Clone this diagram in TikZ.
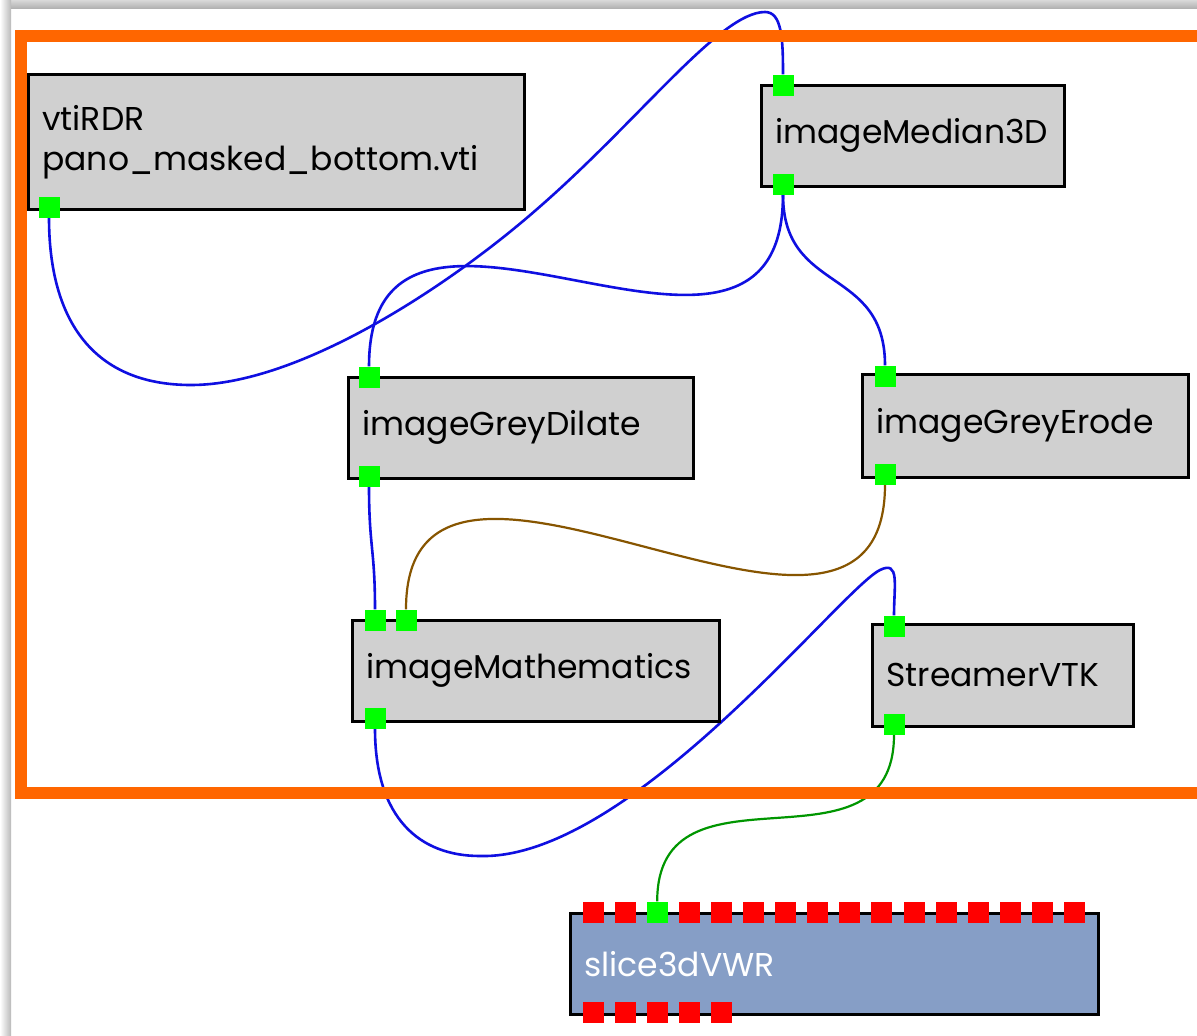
\documentclass[tikz,border=0pt]{standalone}
\usepackage{fontspec}
\setmainfont{Poppins}
\usetikzlibrary{backgrounds}

\definecolor{modgrey}{RGB}{208,208,208}
\definecolor{vwrblue}{RGB}{134,158,198}
\definecolor{portgreen}{RGB}{0,255,0}
\definecolor{portred}{RGB}{255,0,0}
\definecolor{linkblue}{RGB}{15,15,225}
\definecolor{linkbrown}{RGB}{135,85,0}
\definecolor{linkgreen}{RGB}{0,150,0}
\definecolor{frameorange}{RGB}{255,102,0}

\newcommand{\modfont}{\fontsize{33}{40}\selectfont}

\tikzset{
  module/.style={draw=black, line width=2.6pt, fill=modgrey, anchor=north west,
    minimum height=101pt, inner xsep=14pt, inner ysep=0pt, align=left, font=\modfont},
  port/.style={fill=portgreen, inner sep=0pt, minimum size=21pt},
  link/.style={draw=linkblue, line width=2.6pt},
}

\begin{document}
\begin{tikzpicture}[x=1pt,y=-1pt]
    \useasboundingbox (0,0) rectangle (1197,1036);
    \clip (0,0) rectangle (1197,1036);

    % modules
    \node[module, text width=468pt, minimum height=135pt] (rdr) at (27,73) {vtiRDR\\pano\_masked\_bottom.vti};
    \node[module, text width=275pt] (med) at (760,84) {imageMedian3D};
    \node[module, text width=317pt] (dil) at (347,376) {imageGreyDilate};
    \node[module, text width=298pt, minimum height=103pt] (ero) at (861,373) {imageGreyErode};
    \node[module, text width=339pt] (mat) at (351,619) {imageMathematics};
    \node[module, text width=233pt, minimum height=102pt] (str) at (871,623) {StreamerVTK};
    \node[module, text width=500pt, fill=vwrblue, text=white] (vwr) at (569,912) {slice3dVWR};

    % ports
    \node[port] (rdr-o) at (49,207) {};
    \node[port] (med-i) at (783,85) {};
    \node[port] (med-o) at (783,184) {};
    \node[port] (dil-i) at (369,377) {};
    \node[port] (dil-o) at (369,476) {};
    \node[port] (ero-i) at (885,376) {};
    \node[port] (ero-o) at (885,474) {};
    \node[port] (mat-i1) at (375,620) {};
    \node[port] (mat-i2) at (406,620) {};
    \node[port] (mat-o) at (375,718) {};
    \node[port] (str-i) at (894,626) {};
    \node[port] (str-o) at (894,724) {};
    \foreach \i in {0,1,3,4,...,15}
        \node[port, fill=portred] (vwr-t\i) at ({593+32.1*\i},912) {};
    \node[port] (vwr-t2) at (657.2,912) {};
    \foreach \i in {0,...,4}
        \node[port, fill=portred] (vwr-b\i) at ({593+32.1*\i},1012) {};

    \begin{scope}[on background layer]
        \fill[white] (0,0) rectangle (1197,1036);
        \shade[top color=gray!30, bottom color=gray!60] (0,0) rectangle (1197,8);
        \shade[left color=white, right color=gray!55] (0,0) rectangle (11,1036);

        % connections
        \draw[link] (rdr-o.south) .. controls +(0,105) and (95,385) .. (191,385)
            .. controls (300,385) and (450,285) .. (536,210)
            .. controls (640,120) and (720,12) .. (765,12)
            .. controls (782,12) and +(0,-35) .. (med-i.north);
        \draw[link] (med-o.south) .. controls +(0,250) and +(0,-250) .. (dil-i.north);
        \draw[link] (med-o.south) .. controls +(0,100) and +(0,-100) .. (ero-i.north);
        \draw[link] (dil-o.south) .. controls +(0,60) and +(0,-60) .. (mat-i1.north);
        \draw[link, draw=linkbrown, line width=2.2pt] (ero-o.south) .. controls +(0,250) and +(0,-250) .. (mat-i2.north);
        \draw[link] (mat-o.south) .. controls +(0,90) and (420,856) .. (480,856)
            .. controls (630,860) and (840,590) .. (880,570)
            .. controls (900,560) and +(0,-30) .. (str-i.north);
        \draw[link, draw=linkgreen, line width=2.2pt] (str-o.south) .. controls +(0,150) and +(0,-150) .. (vwr-t2.north);

        % group frame
        \draw[frameorange, line width=11.5pt] (21,36) rectangle (1240,793);
    \end{scope}
\end{tikzpicture}
\end{document}
